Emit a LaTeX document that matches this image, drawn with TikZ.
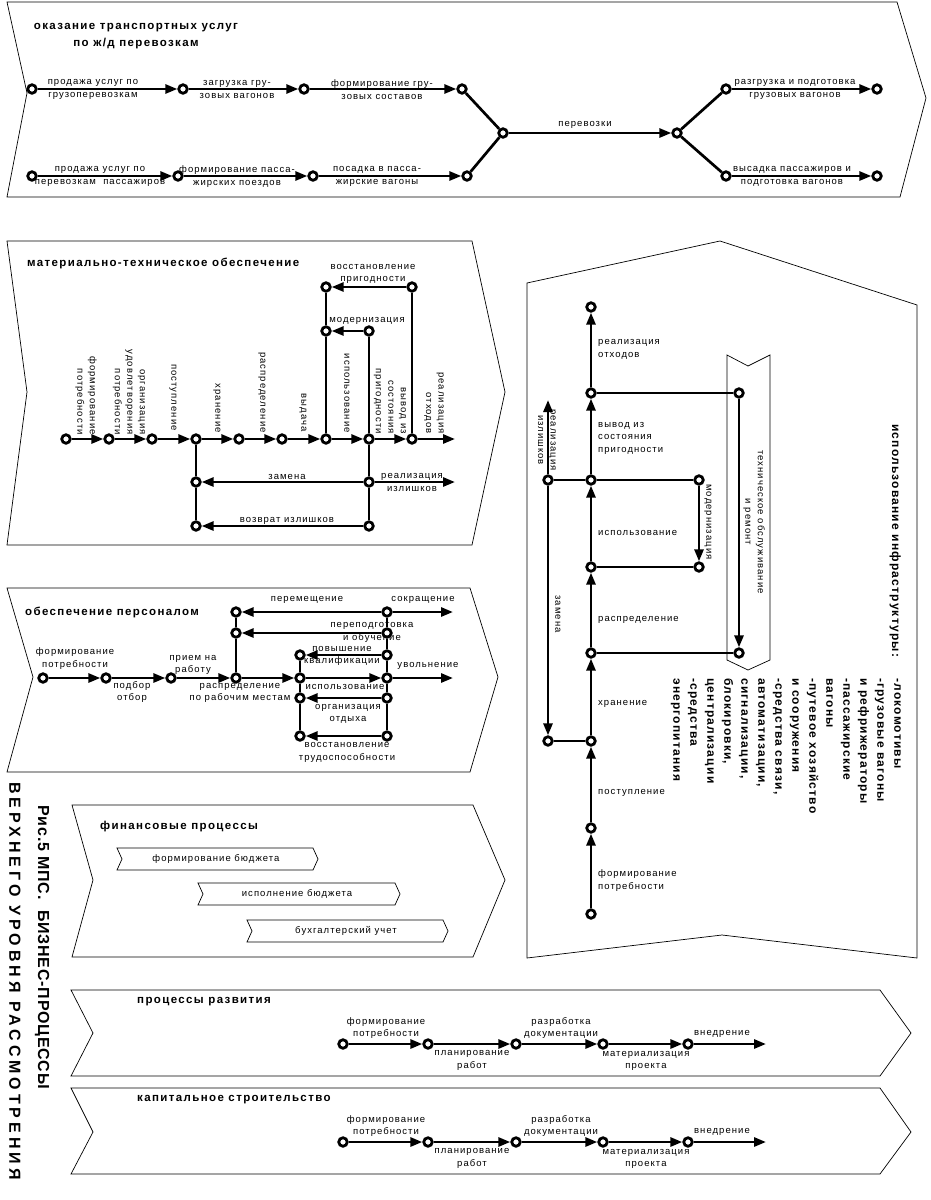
\documentclass[tikz,border=0pt]{standalone}
\usepackage{fontspec}
\setmainfont{Liberation Sans}
\newfontfamily\notefont[LetterSpace=11]{Liberation Sans}
\newfontfamily\headfont[LetterSpace=12]{Liberation Sans}
\newfontfamily\listfont[LetterSpace=10]{Liberation Sans}
\newfontfamily\capfonta[LetterSpace=5]{Liberation Sans}
\newfontfamily\capfontb[LetterSpace=25]{Liberation Sans}
\usetikzlibrary{arrows.meta}

\begin{document}
\begin{tikzpicture}[x=1pt, y=-1pt,
  ev/.style={circle, draw, line width=2.8pt, fill=white, inner sep=0pt, minimum size=8.5pt},
  flow/.style={line width=2.7pt, -{Triangle[length=12pt, width=9pt]}},
  link/.style={line width=2.7pt},
  frame/.style={draw, line width=0.7pt},
  note/.style={font=\notefont\fontsize{9.5}{12.5}\selectfont, align=center, inner sep=0pt},
  vnote/.style={note, rotate=-90, anchor=east, align=right},
  rnote/.style={note, rotate=-90},
  head/.style={font=\headfont\bfseries\fontsize{11.5}{17}\selectfont, align=center, inner sep=0pt},
]
  \useasboundingbox (0,0) rectangle (931,1200);

  % frames of the processes
  \draw[frame] (7,2) -- (897,2) -- (926,98) -- (900,197) -- (7,197) -- (27,93) -- cycle;
  \draw[frame] (7,241) -- (472,241) -- (505,392) -- (472,545) -- (7,545) -- (27,392) -- cycle;
  \draw[frame] (7,588) -- (470,588) -- (498,677) -- (470,772) -- (7,772) -- (33,677) -- cycle;
  \draw[frame] (527,283) -- (720,241) -- (917,305) -- (917,958) -- (722,935) -- (527,958) -- cycle;
  \draw[frame] (727,355) -- (748,366) -- (770,355) -- (770,660) -- (748,670) -- (727,660) -- cycle;
  \draw[frame] (72,805) -- (473,805) -- (505,880) -- (473,957) -- (72,957) -- (93,880) -- cycle;
  \draw[frame] (117,848) -- (313,848) -- (318,859) -- (313,870) -- (117,870) -- (122,859) -- cycle;
  \draw[frame] (198,883) -- (395,883) -- (400,894) -- (395,905) -- (198,905) -- (203,894) -- cycle;
  \draw[frame] (247,920) -- (443,920) -- (448,931) -- (443,942) -- (247,942) -- (252,931) -- cycle;
  \draw[frame] (71,990) -- (880,990) -- (911,1033) -- (880,1076) -- (71,1076) -- (93,1033) -- cycle;
  \draw[frame] (71,1088) -- (880,1088) -- (911,1132) -- (880,1174) -- (71,1174) -- (93,1132) -- cycle;

  % caption
  \node[font=\capfonta\bfseries\fontsize{16}{18}\selectfont, rotate=-90, anchor=west, inner sep=0pt]
    (cap1) at (42,805) {Рис.5 МПС.\ \ БИЗНЕС-ПРОЦЕССЫ};
  \node[font=\capfontb\bfseries\fontsize{16}{18}\selectfont, rotate=-90, anchor=west, inner sep=0pt]
    (cap2) at (15,782) {ВЕРХНЕГО УРОВНЯ РАССМОТРЕНИЯ};

  %% transport services
  \node[head] (h1) at (136,36.5) {оказание транспортных услуг\\по ж/д перевозкам};
  \node[ev] (t1) at (32,89) {};
  \node[ev] (t2) at (183,89) {};
  \node[ev] (t3) at (304,89) {};
  \node[ev] (t4) at (462,89) {};
  \node[ev] (p1) at (32,176) {};
  \node[ev] (p2) at (178,176) {};
  \node[ev] (p3) at (313,176) {};
  \node[ev] (p4) at (467,176) {};
  \node[ev] (tj1) at (503,133) {};
  \node[ev] (tj2) at (677,133) {};
  \node[ev] (tf1) at (726,89) {};
  \node[ev] (tf2) at (877,89) {};
  \node[ev] (tp1) at (726,176) {};
  \node[ev] (tp2) at (877,176) {};
  \draw[flow] (t1) -- (t2);
  \draw[flow] (t2) -- (t3);
  \draw[flow] (t3) -- (t4);
  \draw[flow] (p1) -- (p2);
  \draw[flow] (p2) -- (p3);
  \draw[flow] (p3) -- (p4);
  \draw[link] (t4) -- (tj1) -- (p4);
  \draw[flow] (tj1) -- (tj2);
  \draw[link] (tf1) -- (tj2) -- (tp1);
  \draw[flow] (tf1) -- (tf2);
  \draw[flow] (tp1) -- (tp2);
  \node[note] (lt1) at (93,89.5) {продажа услуг по\\грузоперевозкам};
  \node[note] (lt2) at (237,89.5) {загрузка гру-\\зовых вагонов};
  \node[note] (lt3) at (382,89.5) {формирование гру-\\зовых составов};
  \node[note] (lt4) at (585,125) {перевозки};
  \node[note] (lt5) at (795,89.5) {разгрузка и подготовка\\грузовых вагонов};
  \node[note] (lp1) at (100,176.5) {продажа услуг по\\перевозкам\ \ пассажиров};
  \node[note] (lp2) at (237,176.5) {формирование пасса-\\жирских поездов};
  \node[note] (lp3) at (377,176.5) {посадка в пасса-\\жирские вагоны};
  \node[note] (lp4) at (792,176.5) {высадка пассажиров и\\подготовка вагонов};

  %% material supply
  \node[head, anchor=west] (h2) at (27,263) {материально-техническое обеспечение};
  \foreach \n/\x in {1/66, 2/109, 3/152, 4/196, 5/239, 6/282, 7/326, 8/369, 9/412}
    \node[ev] (m\n) at (\x,439) {};
  \coordinate (mend) at (455,439);
  \node[ev] (mu1) at (326,287) {};
  \node[ev] (mu2) at (412,287) {};
  \node[ev] (mm1) at (326,331) {};
  \node[ev] (mm2) at (369,331) {};
  \node[ev] (mz1) at (196,482) {};
  \node[ev] (mz2) at (369,482) {};
  \coordinate (mzend) at (455,482);
  \node[ev] (mv1) at (196,526) {};
  \node[ev] (mv2) at (369,526) {};
  \foreach \a/\b in {1/2, 2/3, 3/4, 4/5, 5/6, 6/7, 7/8, 8/9}
    \draw[flow] (m\a) -- (m\b);
  \draw[flow] (m9) -- (mend);
  \draw[link] (m7) -- (mm1) -- (mu1);
  \draw[link] (m8) -- (mm2);
  \draw[link] (m9) -- (mu2);
  \draw[link] (m4) -- (mz1) -- (mv1);
  \draw[link] (m8) -- (mz2) -- (mv2);
  \draw[flow] (mu2) -- (mu1);
  \draw[flow] (mm2) -- (mm1);
  \draw[flow] (mz2) -- (mz1);
  \draw[flow] (mz2) -- (mzend);
  \draw[flow] (mv2) -- (mv1);
  \node[vnote] (lm1) at (86,435) {формирование\\потребности};
  \node[vnote] (lm2) at (129,435) {организация\\удовлетворения\\потребности};
  \node[vnote] (lm3) at (173,431) {поступление};
  \node[vnote] (lm4) at (217,433) {хранение};
  \node[vnote] (lm5) at (262,433) {распределение};
  \node[vnote] (lm6) at (303,432) {выдача};
  \node[vnote] (lm7) at (347,433) {использование};
  \node[vnote] (lm8) at (390,434) {вывод из\\состояния\\пригодности};
  \node[vnote] (lm9) at (434,434) {реализация\\отходов};
  \node[note] (lmu) at (373,274) {восстановление\\пригодности};
  \node[note] (lmm) at (367,321) {модернизация};
  \node[note] (lmz) at (287,477) {замена};
  \node[note] (lmr) at (412,482.5) {реализация\\излишков};
  \node[note] (lmv) at (287,521) {возврат излишков};

  %% staffing
  \node[head, anchor=west] (h3) at (25,612) {обеспечение персоналом};
  \foreach \n/\x in {1/43, 2/106, 3/171, 4/236, 5/300, 6/387}
    \node[ev] (k\n) at (\x,678) {};
  \coordinate (kend) at (453,678);
  \node[ev] (ku1) at (236,612) {};
  \node[ev] (ku2) at (387,612) {};
  \coordinate (kuend) at (453,612);
  \node[ev] (kp1) at (236,633) {};
  \node[ev] (kp2) at (387,633) {};
  \node[ev] (kq1) at (300,655) {};
  \node[ev] (kq2) at (387,655) {};
  \node[ev] (ko1) at (300,698) {};
  \node[ev] (ko2) at (387,698) {};
  \node[ev] (kr1) at (300,736) {};
  \node[ev] (kr2) at (387,736) {};
  \foreach \a/\b in {1/2, 2/3, 3/4, 4/5, 5/6}
    \draw[flow] (k\a) -- (k\b);
  \draw[flow] (k6) -- (kend);
  \draw[link] (k4) -- (kp1) -- (ku1);
  \draw[link] (ku2) -- (kp2) -- (kq2) -- (k6) -- (ko2) -- (kr2);
  \draw[link] (kq1) -- (k5) -- (ko1) -- (kr1);
  \draw[flow] (ku2) -- (ku1);
  \draw[flow] (ku2) -- (kuend);
  \draw[flow] (kp2) -- (kp1);
  \draw[flow] (kq2) -- (kq1);
  \draw[flow] (ko2) -- (ko1);
  \draw[flow] (kr2) -- (kr1);
  \node[note] (lk1) at (75,658.5) {формирование\\потребности};
  \node[note] (lk2) at (132,692) {подбор\\отбор};
  \node[note] (lk3) at (193,665) {прием на\\работу};
  \node[note] (lk4) at (240,693) {распределение\\по рабочим местам};
  \node[note] (lk5) at (345,687) {использование};
  \node[note] (lk6) at (428,666) {увольнение};
  \node[note] (lku) at (307,600) {перемещение};
  \node[note] (lke) at (423,600) {сокращение};
  \node[note] (lkp) at (372,632.5) {переподготовка\\и обучение};
  \node[note] (lkq) at (342,656) {повышение\\квалификации};
  \node[note] (lko) at (348,714) {организация\\отдыха};
  \node[note] (lkr) at (347,752.5) {восстановление\\трудоспособности};

  %% infrastructure use
  \foreach \n/\y in {1/914, 2/828, 3/741, 4/653, 5/567, 6/480, 7/393, 8/307}
    \node[ev] (i\n) at (591,\y) {};
  \node[ev] (iz1) at (548,480) {};
  \node[ev] (iz2) at (548,741) {};
  \coordinate (izend) at (548,400);
  \node[ev] (ir1) at (739,393) {};
  \node[ev] (ir2) at (739,653) {};
  \node[ev] (im1) at (699,480) {};
  \node[ev] (im2) at (699,567) {};
  \foreach \a/\b in {1/2, 2/3, 3/4, 4/5, 5/6, 6/7, 7/8}
    \draw[flow] (i\a) -- (i\b);
  \draw[link] (iz1) -- (i6) -- (im1);
  \draw[link] (iz2) -- (i3);
  \draw[link] (i5) -- (im2);
  \draw[link] (i7) -- (ir1);
  \draw[link] (i4) -- (ir2);
  \draw[flow] (iz1) -- (izend);
  \draw[flow] (iz1) -- (iz2);
  \draw[flow] (im1) -- (im2);
  \draw[flow] (ir1) -- (ir2);
  \node[note, anchor=west, align=left] (li8) at (598,349.5) {реализация\\отходов};
  \node[note, anchor=west, align=left] (li7) at (598,438) {вывод из\\состояния\\пригодности};
  \node[note, anchor=west, align=left] (li6) at (598,533) {использование};
  \node[note, anchor=west, align=left] (li5) at (598,620) {распределение};
  \node[note, anchor=west, align=left] (li4) at (598,704) {хранение};
  \node[note, anchor=west, align=left] (li3) at (598,793) {поступление};
  \node[note, anchor=west, align=left] (li2) at (598,880.5) {формирование\\потребности};
  \node[rnote] (liz) at (547,440) {реализация\\излишков};
  \node[rnote] (lizz) at (558,614) {замена};
  \node[rnote] (lim) at (708,522) {модернизация};
  \node[rnote] (lir) at (754,522) {техническое обслуживание\\и ремонт};
  \node[font=\listfont\bfseries\fontsize{12}{17}\selectfont, rotate=-90, anchor=north west, inner sep=0pt]
    (hi) at (901,424) {использование инфраструктуры:};
  \node[font=\listfont\bfseries\fontsize{12}{17}\selectfont, rotate=-90, anchor=north west,
        align=left, inner sep=0pt]
    (lst) at (901,678) {-локомотивы\\-грузовые вагоны\\и рефрижераторы\\-пассажирские\\вагоны\\
     -путевое хозяйство\\и сооружения\\-средства связи,\\автоматизации,\\сигнализации,\\
     блокировки,\\централизации\\-средства\\энергопитания};

  %% finance
  \node[head, anchor=west] (h5) at (100,827) {финансовые процессы};
  \node[note] (fb1) at (216,859) {формирование бюджета};
  \node[note] (fb2) at (297,894) {исполнение бюджета};
  \node[note] (fb3) at (346,931) {бухгалтерский учет};

  %% development and construction
  \foreach \s/\t/\o in {d/процессы развития/0, c/капитальное строительство/98} {
    \node[head, anchor=west] (h\s) at (137,1002+\o) {\t};
    \foreach \n/\x in {1/343, 2/428, 3/516, 4/603, 5/688}
      \node[ev] (\s\n) at (\x,1044+\o) {};
    \coordinate (\s end) at (766,1044+\o);
    \foreach \a/\b in {1/2, 2/3, 3/4, 4/5}
      \draw[flow] (\s\a) -- (\s\b);
    \draw[flow] (\s5) -- (\s end);
    \node[note] (l\s1) at (386,1028+\o) {формирование\\потребности};
    \node[note] (l\s2) at (472,1060.5+\o) {планирование\\работ};
    \node[note] (l\s3) at (561,1028+\o) {разработка\\документации};
    \node[note] (l\s4) at (646,1061+\o) {материализация\\проекта};
    \node[note] (l\s5) at (722,1034+\o) {внедрение};
  }
\end{tikzpicture}
\end{document}
